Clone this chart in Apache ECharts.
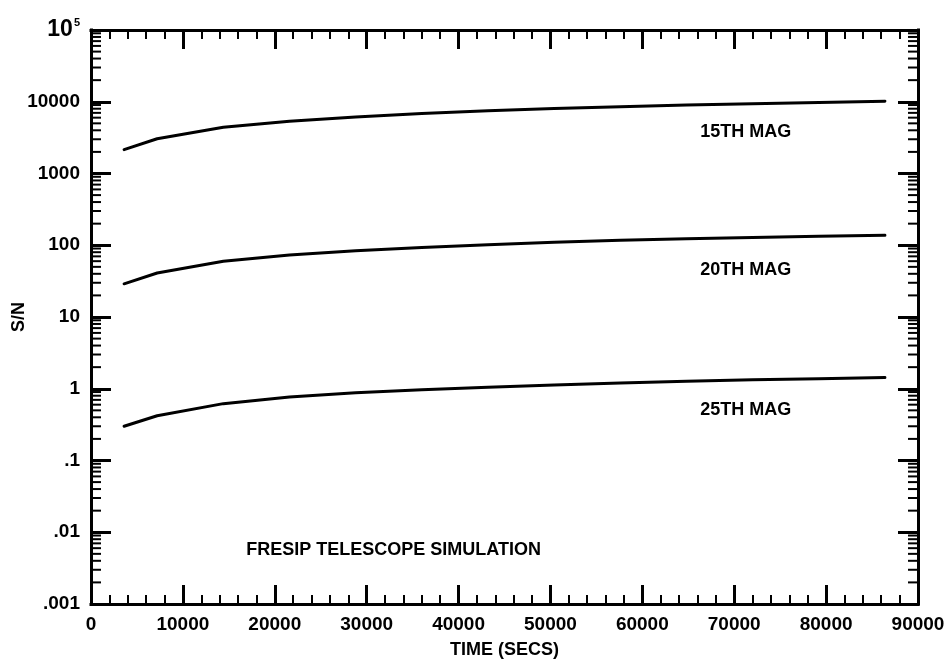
<!DOCTYPE html>
<html>
<head>
<meta charset="utf-8">
<script src="https://cdn.jsdelivr.net/npm/echarts@6/dist/echarts.min.js"></script>
<style>
html, body { margin: 0; padding: 0; background: #fff; }
#chart { width: 951px; height: 671px; }
</style>
</head>
<body>
<div id="chart"></div>
<script>
// time (seconds) and S/N
const times = [3600, 7200, 14400, 21600, 28800, 36000, 43200, 50400, 57600, 64800, 72000, 79200, 86400]
const mag15 = [2150, 3050, 4400, 5350, 6150, 6850, 7500, 8050, 8550, 9000, 9400, 9800, 10200]
const mag20 = [29, 41, 60, 73, 84, 93, 102, 110, 117, 123, 128, 133, 138]
const mag25 = [0.30, 0.42, 0.62, 0.77, 0.88, 0.97, 1.05, 1.13, 1.20, 1.27, 1.33, 1.38, 1.43]

// y tick labels, from 10^-3 up to 10^5
const yTickLabels = ['.001', '.01', '.1', '1', '10', '100', '1000', '10000', '{a|10}{s|5}']
// minor log ticks inside every decade
const minorSteps = [2, 3, 4, 5, 6, 7, 8, 9]
const decades = [0.001, 0.01, 0.1, 1, 10, 100, 1000, 10000]

// in-plot labels
const noteTexts = ['15TH MAG', '20TH MAG', '25TH MAG', 'FRESIP TELESCOPE SIMULATION']
const noteTimes = [66300, 66300, 66300, 16900]
const noteValues = [3790, 45, 0.506, 0.0057]

const font = 'Liberation Sans, Arial, sans-serif'
const black = '#000'

let minorVals = []
decades.forEach(d => minorSteps.forEach(m => minorVals.push([0, d * m])))

let chart = echarts.init(document.getElementById('chart'))

const xCommon = {
  type: 'value',
  min: 0,
  max: 90000,
  interval: 10000,
  axisLine: { onZero: false, lineStyle: { color: black, width: 3, cap: 'square' } },
  axisTick: { inside: true, length: 19, lineStyle: { color: black, width: 3 } },
  minorTick: { show: true, splitNumber: 5, length: 9, lineStyle: { color: black, width: 2 } },
  splitLine: { show: false }
}
const yCommon = {
  type: 'log',
  logBase: 10,
  min: 0.001,
  max: 100000,
  splitNumber: 8,
  axisLine: { onZero: false, lineStyle: { color: black, width: 3, cap: 'square' } },
  axisTick: { inside: true, length: 20, lineStyle: { color: black, width: 3 } },
  splitLine: { show: false }
}

function lineSeries (name, vals) {
  return {
    name: name,
    type: 'line',
    data: times.map((t, i) => [t, vals[i]]),
    showSymbol: false,
    symbol: 'none',
    lineStyle: { color: black, width: 3, join: 'round', cap: 'round' },
    silent: true
  }
}

chart.setOption({
  animation: false,
  backgroundColor: '#fff',
  textStyle: { fontFamily: font, color: black },
  grid: { left: 91, right: 33, top: 30, bottom: 67, containLabel: false, outerBoundsMode: 'none' },
  xAxis: [
    Object.assign({}, xCommon, {
      position: 'bottom',
      name: 'TIME (SECS)',
      nameLocation: 'middle',
      nameGap: 37,
      nameMoveOverlap: false,
      nameTextStyle: { fontFamily: font, fontSize: 18, fontWeight: 'bold', color: black },
      axisLabel: {
        margin: 11,
        fontFamily: font,
        fontSize: 19,
        fontWeight: 'bold',
        color: black,
        formatter: v => String(v)
      }
    }),
    Object.assign({}, xCommon, { position: 'top', axisLabel: { show: false } })
  ],
  yAxis: [
    Object.assign({}, yCommon, {
      position: 'left',
      name: 'S/N',
      nameLocation: 'middle',
      nameGap: 63,
      nameMoveOverlap: false,
      nameTextStyle: { fontFamily: font, fontSize: 18, fontWeight: 'bold', color: black },
      axisLabel: {
        margin: 11,
        fontFamily: font,
        fontSize: 19,
        fontWeight: 'bold',
        color: black,
        formatter: v => yTickLabels[Math.round(Math.log10(v)) + 3],
        rich: {
          a: { fontFamily: font, fontSize: 23, fontWeight: 'bold', color: black },
          s: { fontFamily: font, fontSize: 11, fontWeight: 'bold', color: black, padding: [0, 0, 14, 1] }
        }
      }
    }),
    Object.assign({}, yCommon, { position: 'right', axisLabel: { show: false } })
  ],
  series: [
    lineSeries('15TH MAG', mag15),
    lineSeries('20TH MAG', mag20),
    lineSeries('25TH MAG', mag25),
    {
      name: 'minor',
      type: 'custom',
      xAxisIndex: 0,
      yAxisIndex: 0,
      silent: true,
      data: minorVals,
      renderItem: function (params, api) {
        let p = api.coord([0, api.value(1)])
        let cs = params.coordSys
        return {
          type: 'group',
          children: [
            { type: 'line', shape: { x1: cs.x, y1: p[1], x2: cs.x + 10, y2: p[1] }, style: { stroke: black, lineWidth: 2 } },
            { type: 'line', shape: { x1: cs.x + cs.width, y1: p[1], x2: cs.x + cs.width - 10, y2: p[1] }, style: { stroke: black, lineWidth: 2 } }
          ]
        }
      }
    }
  ]
})

// place the in-plot labels through the axes' scales
let notes = noteTexts.map((txt, i) => {
  let p = chart.convertToPixel({ gridIndex: 0 }, [noteTimes[i], noteValues[i]])
  return {
    type: 'text',
    x: p[0],
    y: p[1],
    style: { text: txt, fontFamily: font, fontSize: 18, fontWeight: 'bold', fill: black, textVerticalAlign: 'middle' }
  }
})
chart.setOption({ graphic: notes })
</script>
</body>
</html>
